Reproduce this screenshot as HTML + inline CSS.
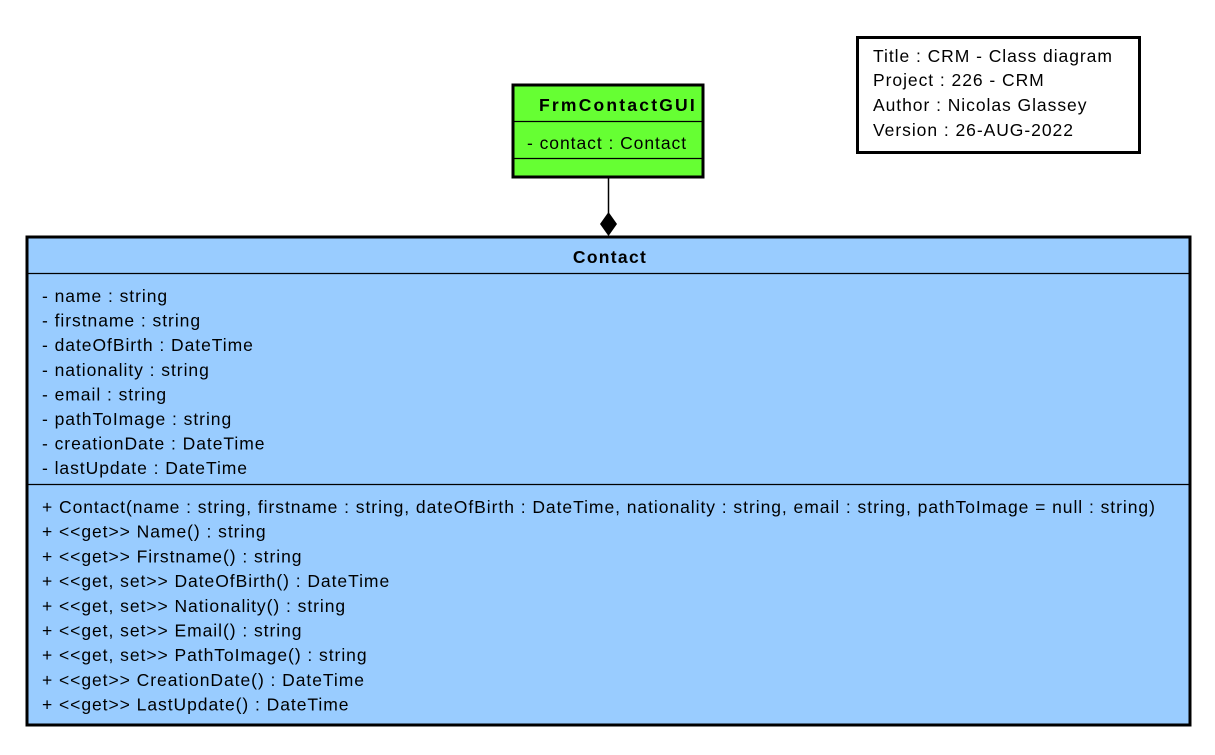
<!DOCTYPE html>
<html><head><style>body{margin:0;background:#fff}svg{display:block}text{font-family:"Liberation Sans",Arial,sans-serif;font-size:17.5px;fill:#000;letter-spacing:0.95px}</style></head><body>
<svg width="1215" height="755" viewBox="0 0 1215 755">
<rect x="857.5" y="37.5" width="282" height="115" fill="#fff" stroke="#000" stroke-width="3"/>
<text x="873" y="62">Title : CRM - Class diagram</text>
<text x="873" y="86">Project : 226 - CRM</text>
<text x="873" y="111">Author : Nicolas Glassey</text>
<text x="873" y="136">Version : 26-AUG-2022</text>
<rect x="513" y="85" width="190" height="92" fill="#66ff33" stroke="#000" stroke-width="3"/>
<line x1="513" y1="121.5" x2="703" y2="121.5" stroke="#000" stroke-width="1.3"/>
<line x1="513" y1="158.5" x2="703" y2="158.5" stroke="#000" stroke-width="1.3"/>
<text x="618" y="111" text-anchor="middle" font-weight="bold" style="letter-spacing:2.2px">FrmContactGUI</text>
<text x="527" y="149">- contact : Contact</text>
<line x1="608.5" y1="178" x2="608.5" y2="214" stroke="#000" stroke-width="1.5"/>
<polygon points="608.5,212 617,224 608.5,236 600,224" fill="#000"/>
<rect x="27" y="237" width="1163" height="488" fill="#99ccff" stroke="#000" stroke-width="3"/>
<line x1="27" y1="273.5" x2="1190" y2="273.5" stroke="#000" stroke-width="1.3"/>
<line x1="27" y1="484.5" x2="1190" y2="484.5" stroke="#000" stroke-width="1.3"/>
<text x="610" y="263" text-anchor="middle" font-weight="bold" style="letter-spacing:1.3px">Contact</text>
<g>
<text x="42" y="302">- name : string</text>
<text x="42" y="326.6">- firstname : string</text>
<text x="42" y="351.2">- dateOfBirth : DateTime</text>
<text x="42" y="375.8">- nationality : string</text>
<text x="42" y="400.4">- email : string</text>
<text x="42" y="425">- pathToImage : string</text>
<text x="42" y="449.6">- creationDate : DateTime</text>
<text x="42" y="474.2">- lastUpdate : DateTime</text>
<text x="42" y="513">+ Contact(name : string, firstname : string, dateOfBirth : DateTime, nationality : string, email : string, pathToImage = null : string)</text>
<text x="42" y="537.7">+ &lt;&lt;get&gt;&gt; Name() : string</text>
<text x="42" y="562.4">+ &lt;&lt;get&gt;&gt; Firstname() : string</text>
<text x="42" y="587.1">+ &lt;&lt;get, set&gt;&gt; DateOfBirth() : DateTime</text>
<text x="42" y="611.8">+ &lt;&lt;get, set&gt;&gt; Nationality() : string</text>
<text x="42" y="636.5">+ &lt;&lt;get, set&gt;&gt; Email() : string</text>
<text x="42" y="661.2">+ &lt;&lt;get, set&gt;&gt; PathToImage() : string</text>
<text x="42" y="685.9">+ &lt;&lt;get&gt;&gt; CreationDate() : DateTime</text>
<text x="42" y="710.6">+ &lt;&lt;get&gt;&gt; LastUpdate() : DateTime</text>
</g>
</svg>
</body></html>
